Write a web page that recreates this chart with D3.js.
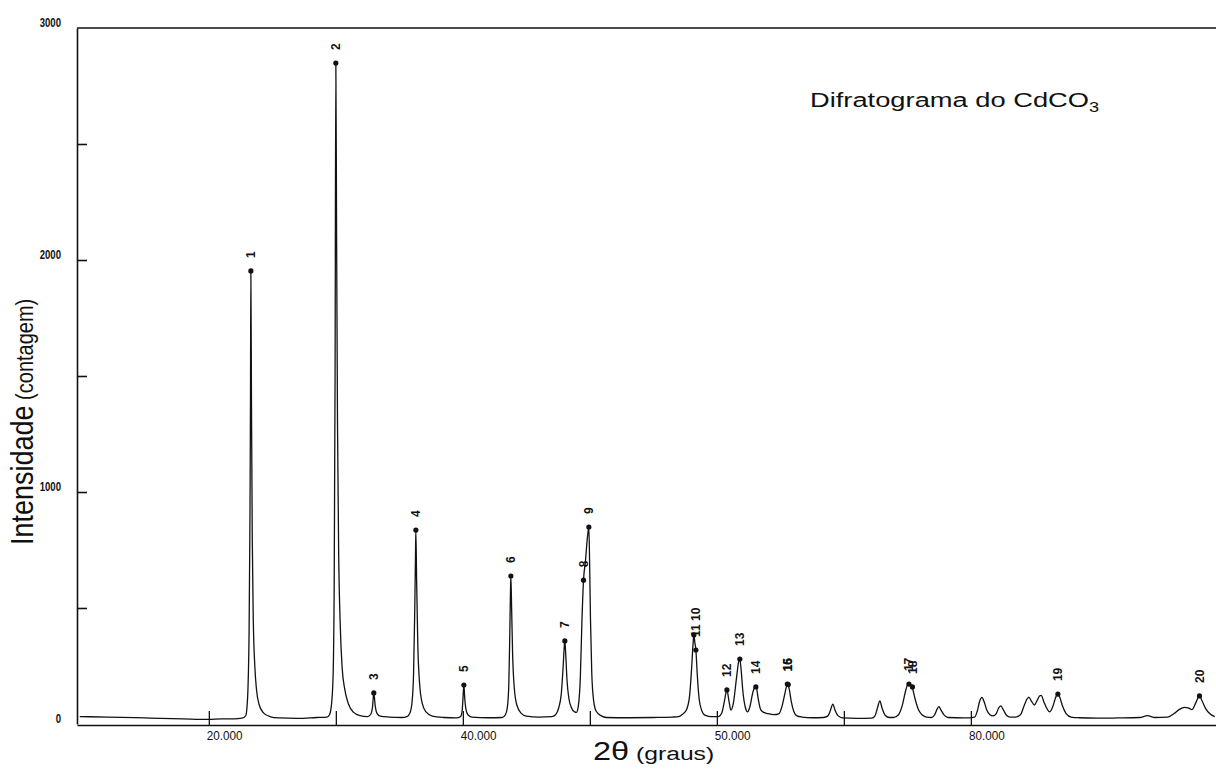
<!DOCTYPE html>
<html>
<head>
<meta charset="utf-8">
<script src="https://cdn.jsdelivr.net/npm/d3@7"></script>
<style>
body { margin: 0; background: #fff; }
svg { display: block; background: #fff; }
text { font-family: "Liberation Sans", Arial, sans-serif; fill: #111; }
</style>
</head>
<body>
<svg width="1216" height="771"></svg>
<script>
//------------------------------------------------------------------------------
// values: [2theta (deg), counts]
var trace = [
  [9.84, 32], [12, 30], [15, 26], [18, 22], [20, 20], [21, 22], [22, 22], [22.6, 25],
  // peak 1
  [22.9, 35], [23.0, 70], [23.08, 150], [23.17, 400], [23.24, 900], [23.28, 1400], [23.31, 1953],
  [23.36, 1350], [23.42, 800], [23.5, 450], [23.62, 250], [23.75, 150], [23.95, 85], [24.3, 48],
  [24.8, 32], [25.5, 26], [27, 24], [28.5, 28], [29.3, 30],
  // peak 2
  [29.5, 40], [29.65, 80], [29.78, 200], [29.87, 600], [29.94, 1500], [30.0, 2849], [30.06, 2100],
  [30.13, 1300], [30.22, 750], [30.35, 420], [30.5, 240], [30.7, 150], [31.0, 85], [31.4, 50],
  [31.9, 36], [32.5, 32],
  // peak 3
  [32.75, 42], [32.88, 70], [32.99, 134], [33.1, 78], [33.25, 45], [33.5, 34], [34.2, 30], [35.2, 28],
  // peak 4
  [35.6, 32], [35.85, 50], [36.0, 95], [36.12, 220], [36.21, 480], [36.27, 720], [36.3, 836],
  [36.36, 620], [36.45, 350], [36.6, 170], [36.8, 90], [37.1, 52], [37.6, 34], [38.5, 28], [39.5, 26],
  // peak 5
  [39.82, 32], [39.95, 60], [40.02, 120], [40.08, 168], [40.15, 110], [40.25, 62], [40.4, 40],
  [40.7, 30], [42, 27], [43.1, 28],
  // peak 6
  [43.35, 40], [43.5, 70], [43.62, 170], [43.7, 400], [43.75, 570], [43.78, 638], [43.84, 500],
  [43.92, 300], [44.05, 155], [44.25, 82], [44.6, 46], [45.0, 34], [46, 30], [47.0, 32],
  // peaks 7, 8, 9
  [47.3, 40], [47.55, 70], [47.75, 130], [47.9, 250], [47.98, 330], [48.03, 358], [48.1, 300],
  [48.2, 190], [48.35, 110], [48.55, 70], [48.8, 52], [48.95, 50], [49.1, 80], [49.25, 200],
  [49.38, 450], [49.5, 620], [49.65, 700], [49.8, 800], [49.92, 849], [49.98, 700], [50.05, 450],
  [50.15, 220], [50.3, 100], [50.5, 55], [50.9, 35], [51.3, 28], [53, 27], [55, 28], [56.5, 30],
  // peaks 10, 11
  [57.0, 32], [57.3, 42], [57.6, 60], [57.85, 120], [58.0, 230], [58.12, 340], [58.19, 384],
  [58.27, 350], [58.35, 319], [58.45, 220], [58.6, 110], [58.8, 60], [59.05, 38], [59.5, 32], [60.1, 32],
  // peaks 12 - 16
  [60.4, 50], [60.6, 100], [60.79, 147], [60.95, 100], [61.1, 60], [61.3, 90], [61.55, 200],
  [61.72, 270], [61.81, 280], [61.9, 240], [62.05, 140], [62.25, 70], [62.42, 52], [62.6, 75],
  [62.85, 140], [63.0, 160], [63.1, 160], [63.25, 110], [63.45, 62], [63.7, 50], [64.0, 45],
  [64.5, 40], [64.9, 45], [65.15, 80], [65.35, 130], [65.5, 165], [65.59, 172], [65.7, 150],
  [65.85, 100], [66.05, 55], [66.3, 35], [66.7, 30], [67.5, 27], [68.4, 28],
  // small peaks, 17 / 18
  [68.75, 35], [68.95, 60], [69.13, 86], [69.3, 60], [69.55, 35], [69.9, 26], [71, 24], [72.2, 25],
  [72.45, 35], [72.65, 70], [72.83, 100], [73.0, 70], [73.25, 38], [73.6, 28], [73.9, 28],
  [74.3, 40], [74.6, 80], [74.85, 140], [75.05, 172], [75.2, 172], [75.4, 155], [75.6, 110],
  [75.85, 65], [76.15, 40], [76.5, 30], [76.9, 28],
  [77.15, 40], [77.35, 65], [77.48, 75], [77.65, 60], [77.9, 38], [78.2, 28], [79.5, 26], [80.3, 30],
  [80.5, 55], [80.7, 100], [80.87, 115], [81.05, 95], [81.25, 60], [81.5, 40], [81.75, 35],
  [82.0, 45], [82.2, 70], [82.36, 78], [82.55, 62], [82.8, 38], [83.1, 30], [83.5, 30],
  // group up to 19
  [83.9, 40], [84.2, 80], [84.45, 110], [84.57, 116], [84.75, 100], [85.0, 82], [85.2, 100],
  [85.45, 122], [85.55, 122], [85.75, 95], [86.0, 65], [86.2, 52], [86.45, 75], [86.7, 118],
  [86.85, 129], [87.0, 115], [87.2, 80], [87.5, 45], [87.9, 30], [88.5, 27], [90.0, 25],
  [91.5, 26], [93.3, 28], [93.9, 36], [94.5, 28], [95.5, 30],
  // peak 20
  [96.0, 45], [96.4, 62], [96.8, 72], [97.1, 70], [97.4, 62], [97.7, 90], [98.0, 121], [98.2, 100],
  [98.5, 65], [98.8, 45], [99.2, 32]
];

// labelled peak markers
var peakTheta  = [23.31, 30.0, 32.99, 36.3, 40.08, 43.78, 48.03, 49.5, 49.92, 58.19, 58.35,
                  60.79, 61.81, 63.07, 65.55, 65.62, 75.12, 75.4, 86.85, 98.0];
var peakCounts = [1953, 2849, 134, 836, 168, 638, 358, 620, 849, 384, 319,
                  147, 280, 160, 172, 170, 172, 160, 129, 121];
var peakLabels = ["1", "2", "3", "4", "5", "6", "7", "8", "9", "", "11 10",
                  "12", "13", "14", "15", "16", "17", "18", "19", "20"];

var xTickValues = [20, 30, 40, 50, 60, 70, 80];
var xLabelValues = [20, 40, 60, 80];
var xLabelText = ["20.000", "40.000", "50.000", "80.000"];
var yTickValues = [500, 1000, 1500, 2000, 2500];
var yLabelValues = [0, 1000, 2000, 3000];
//------------------------------------------------------------------------------

var svg = d3.select("svg");

var x = d3.scaleLinear().domain([9.62, 99.3]).range([77, 1216]);
var y = d3.scaleLinear().domain([0, 3000]).range([724, 28]);

// frame: top line
svg.append("line")
    .attr("x1", x(9.62)).attr("x2", 1216)
    .attr("y1", y(3000)).attr("y2", y(3000))
    .attr("stroke", "#111").attr("stroke-width", 1.6);

// left axis, ticks inward
svg.append("g")
    .attr("transform", "translate(" + x(9.62) + ",0)")
    .call(d3.axisRight(y).tickValues(yTickValues).tickSize(10).tickSizeOuter(0).tickFormat(""))
    .call(function(g) {
        g.selectAll("path, line").attr("stroke", "#111").attr("stroke-width", 1.6);
    });

// bottom axis, ticks pointing up
svg.append("g")
    .attr("transform", "translate(0," + (y(0) + 1) + ")")
    .call(d3.axisTop(x).tickValues(xTickValues).tickSize(14).tickSizeOuter(0).tickFormat(""))
    .call(function(g) {
        g.selectAll("path, line").attr("stroke", "#111").attr("stroke-width", 1.3);
    });

// tick labels (narrow plotter lettering)
svg.selectAll(".ylab")
    .data(yLabelValues)
    .enter().append("text")
    .attr("class", "ylab")
    .attr("transform", function(d) { return "translate(61," + (y(d) - 5) + ") scale(0.8,1)"; })
    .attr("text-anchor", "end")
    .attr("dy", "0.35em")
    .style("font-size", "12px")
    .style("font-weight", "bold")
    .text(function(d) { return String(d); });

svg.selectAll(".xlab")
    .data(xLabelValues)
    .enter().append("text")
    .attr("class", "xlab")
    .attr("transform", function(d) { return "translate(" + (x(d) - 2) + ",740) scale(0.9,1)"; })
    .style("font-size", "13px")
    .text(function(d, i) { return xLabelText[i]; });

// diffraction trace
var line = d3.line()
    .x(function(d) { return x(d[0]); })
    .y(function(d) { return y(d[1]); })
    .curve(d3.curveMonotoneX);

svg.append("path")
    .datum(trace)
    .attr("d", line)
    .attr("fill", "none")
    .attr("stroke", "#111")
    .attr("stroke-width", 1.3)
    .attr("stroke-linejoin", "round");

// peak markers and numbers
svg.selectAll(".peak")
    .data(peakTheta)
    .enter().append("circle")
    .attr("class", "peak")
    .attr("cx", function(d) { return x(d); })
    .attr("cy", function(d, i) { return y(peakCounts[i]); })
    .attr("r", 2.6)
    .attr("fill", "#111");

svg.selectAll(".plab")
    .data(peakTheta)
    .enter().append("text")
    .attr("class", "plab")
    .attr("transform", function(d, i) {
        return "translate(" + x(d) + "," + (y(peakCounts[i]) - 13) + ") rotate(-90)";
    })
    .attr("dy", "0.35em")
    .style("font-size", "12px")
    .style("font-weight", "bold")
    .text(function(d, i) { return peakLabels[i]; });

// axis titles
var xt = svg.append("text")
    .attr("transform", "translate(593,760) scale(1.3,1)");
xt.append("tspan").style("font-size", "25px").text("2θ");
xt.append("tspan").style("font-size", "19px").text(" (graus)");

var yt = svg.append("text")
    .attr("transform", "translate(33,545) scale(1.15,1) rotate(-90)");
yt.append("tspan").style("font-size", "27px").text("Intensidade");
yt.append("tspan").style("font-size", "20px").text(" (contagem)");

// title
var tt = svg.append("text")
    .attr("transform", "translate(810,107) scale(1.3,1)")
    .style("font-size", "21px");
tt.append("tspan").text("Difratograma do CdCO");
tt.append("tspan").attr("dy", 5).style("font-size", "14px").text("3");
</script>
</body>
</html>
